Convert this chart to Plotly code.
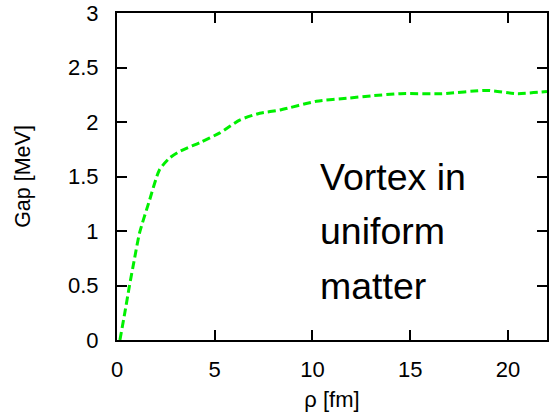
import plotly.graph_objects as go

# Pairing gap profile across the vortex core
rho_fm = [0.15, 0.4, 0.63, 0.9, 1.15, 1.66, 2.17, 2.69, 3.2, 4.23, 5.26, 6.3,
          7.3, 8.34, 10.2, 11.9, 13.0, 14.5, 16.6, 18.95, 20.5, 22.0]
gap_mev = [0.0, 0.25, 0.49, 0.75, 0.98, 1.28, 1.56, 1.67, 1.73, 1.81, 1.90, 2.02,
           2.08, 2.11, 2.19, 2.22, 2.24, 2.26, 2.26, 2.29, 2.26, 2.28]

x_ticks = [0, 5, 10, 15, 20]
y_ticks = [0, 0.5, 1, 1.5, 2, 2.5, 3]
y_tick_text = ["0", "0.5", "1", "1.5", "2", "2.5", "3"]

label_lines = ["Vortex in", "uniform", "matter"]
label_y = [1.5, 1.0, 0.5]

font_family = "Liberation Sans, Arial, Helvetica, sans-serif"

fig = go.Figure()
fig.add_trace(go.Scatter(
    x=rho_fm, y=gap_mev, mode="lines",
    line=dict(color="#00f000", width=3, dash="8px,4px", shape="spline", smoothing=0.6),
    showlegend=False,
))

for txt, yy in zip(label_lines, label_y):
    fig.add_annotation(x=10.3, y=yy, xref="x", yref="y", text=txt, showarrow=False,
                       xanchor="left", yanchor="middle",
                       font=dict(family=font_family, size=37.5, color="black"))

axis_common = dict(
    showgrid=False, zeroline=False, showline=True, linecolor="black", linewidth=2,
    mirror="ticks", ticks="inside", ticklen=10, tickwidth=1.5, tickcolor="black",
    tickfont=dict(family=font_family, size=22, color="black"),
)

fig.update_xaxes(range=[0, 22], tickvals=x_ticks, ticklabelstandoff=9,
                 title=dict(text="ρ [fm]", font=dict(family=font_family, size=22, color="black"),
                            standoff=10),
                 **axis_common)
fig.update_yaxes(range=[0, 3], tickvals=y_ticks, ticktext=y_tick_text, ticklabelstandoff=12,
                 title=dict(text="Gap [MeV]", font=dict(family=font_family, size=21.5, color="black"),
                            standoff=31),
                 **axis_common)

fig.update_layout(
    width=549, height=418,
    margin=dict(l=117, r=2, t=13, b=78, autoexpand=False),
    plot_bgcolor="white", paper_bgcolor="white",
    font=dict(family=font_family, color="black"),
)

fig.write_html("out.html")
